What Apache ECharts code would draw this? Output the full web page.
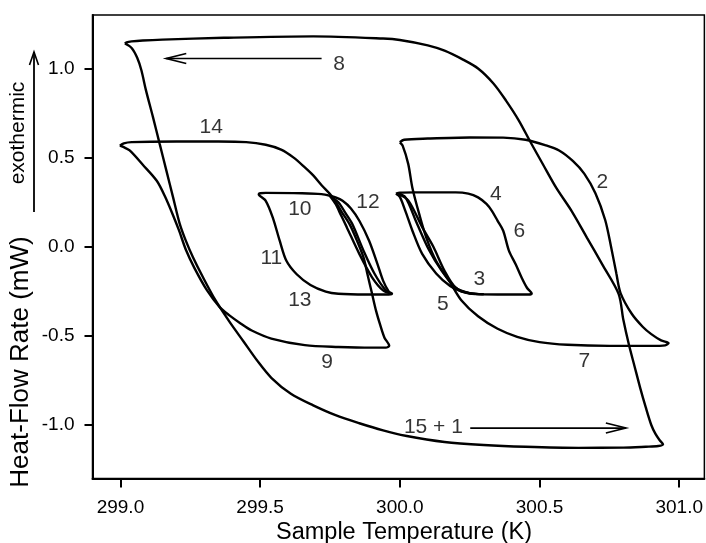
<!DOCTYPE html>
<html><head><meta charset="utf-8">
<script src="https://cdn.jsdelivr.net/npm/echarts@6/dist/echarts.min.js"></script>
<style>html,body{margin:0;padding:0;background:#fff}#c{width:706px;height:543px}</style>
</head><body><div id="c"></div>
<script>
// Tick values
const xTicks = [299.0, 299.5, 300.0, 300.5, 301.0];
const yTicks = [-1.0, -0.5, 0.0, 0.5, 1.0];

// Curves: [Sample Temperature (K), Heat-Flow Rate (mW)]
const outerLoop = [
  [299.016,1.14],[299.04,1.115],[299.06,1.06],[299.075,0.99],[299.091,0.88],[299.116,0.73],
  [299.14,0.58],[299.164,0.43],[299.188,0.28],[299.212,0.13],[299.235,0.03],[299.26,-0.06],
  [299.295,-0.17],[299.34,-0.30],[299.39,-0.42],[299.44,-0.53],[299.49,-0.64],[299.54,-0.735],
  [299.61,-0.825],[299.69,-0.89],[299.77,-0.945],[299.855,-0.99],[299.94,-1.03],[300.02,-1.06],
  [300.16,-1.095],[300.30,-1.112],[300.45,-1.122],[300.64,-1.128],[300.80,-1.127],[300.88,-1.122],
  [300.925,-1.118],[300.942,-1.108],[300.93,-1.085],[300.915,-1.05],[300.90,-1.00],[300.88,-0.90],
  [300.86,-0.79],[300.84,-0.67],[300.82,-0.55],[300.80,-0.41],[300.783,-0.264],[300.725,-0.10],
  [300.67,0.05],[300.615,0.20],[300.56,0.33],[300.513,0.46],[300.468,0.586],[300.426,0.708],
  [300.38,0.82],[300.335,0.916],[300.28,1.00],[300.226,1.05],[300.16,1.10],[300.10,1.13],
  [300.0,1.16],[299.94,1.168],[299.69,1.18],[299.37,1.172],[299.15,1.162],[299.08,1.157],
  [299.04,1.152],[299.022,1.147],[299.016,1.14]
];
const loop14 = [
  [298.998,0.567],[299.012,0.58],[299.04,0.587],[299.2,0.59],[299.35,0.59],[299.45,0.587],
  [299.52,0.572],[299.575,0.545],[299.62,0.50],[299.66,0.445],[299.69,0.40],[299.72,0.345],
  [299.76,0.277],[299.79,0.20],[299.82,0.127],[299.845,0.04],[299.87,-0.06],[299.885,-0.16],
  [299.90,-0.26],[299.915,-0.36],[299.93,-0.44],[299.945,-0.51],[299.962,-0.555],[299.95,-0.566],
  [299.9,-0.566],[299.78,-0.562],[299.66,-0.552],[299.54,-0.515],[299.47,-0.47],[299.43,-0.43],
  [299.39,-0.385],[299.356,-0.34],[299.31,-0.245],[299.265,-0.12],[299.235,-0.02],[299.21,0.09],
  [299.19,0.17],[299.16,0.28],[299.13,0.37],[299.08,0.46],[299.033,0.54],[299.01,0.56],[298.998,0.567]
];
const loopRight = [
  [300.0,0.586],[300.015,0.60],[300.1,0.607],[300.25,0.613],[300.37,0.612],[300.45,0.60],
  [300.52,0.57],[300.57,0.54],[300.62,0.48],[300.66,0.41],[300.70,0.30],[300.735,0.15],
  [300.756,0.0],[300.775,-0.15],[300.79,-0.26],[300.83,-0.376],[300.87,-0.45],[300.90,-0.49],
  [300.935,-0.525],[300.962,-0.54],[300.95,-0.553],[300.90,-0.556],[300.75,-0.556],[300.60,-0.55],
  [300.50,-0.535],[300.42,-0.505],[300.35,-0.46],[300.28,-0.39],[300.22,-0.30],[300.18,-0.20],
  [300.13,-0.08],[300.095,0.05],[300.07,0.18],[300.045,0.33],[300.03,0.465],[300.01,0.567],[300.0,0.586]
];
const smallLeftLoop = [
  [299.75,0.285],[299.72,0.295],[299.65,0.30],[299.52,0.302],[299.50,0.30],[299.495,0.295],
  [299.52,0.258],[299.545,0.165],[299.57,0.034],[299.594,-0.079],[299.63,-0.153],[299.68,-0.215],
  [299.735,-0.252],[299.78,-0.264],[299.88,-0.268],[299.96,-0.268],[299.972,-0.264],[299.96,-0.25],
  [299.94,-0.19],[299.92,-0.097],[299.89,0.034],[299.855,0.146],[299.825,0.215],[299.795,0.258],
  [299.77,0.277],[299.75,0.285]
];
const smallLeftMid = [
  [299.75,0.285],[299.78,0.25],[299.805,0.19],[299.83,0.127],[299.87,-0.022],[299.91,-0.153],
  [299.95,-0.245],[299.972,-0.264]
];
const smallLeftInner = [
  [299.75,0.285],[299.77,0.24],[299.79,0.175],[299.81,0.11],[299.855,-0.04],[299.90,-0.17],
  [299.94,-0.245],[299.972,-0.264]
];
const smallRightLoop = [
  [299.986,0.298],[300.0,0.303],[300.05,0.305],[300.2,0.305],[300.245,0.298],[300.28,0.277],
  [300.31,0.24],[300.33,0.20],[300.35,0.145],[300.37,0.09],[300.39,-0.02],[300.415,-0.10],
  [300.435,-0.17],[300.455,-0.23],[300.472,-0.262],[300.46,-0.268],[300.35,-0.268],[300.28,-0.266],
  [300.22,-0.25],[300.18,-0.22],[300.13,-0.15],[300.08,-0.04],[300.045,0.09],[300.02,0.20],
  [300.0,0.28],[299.986,0.298]
];
const smallRightMid = [
  [299.99,0.30],[300.02,0.277],[300.057,0.146],[300.105,-0.02],[300.15,-0.135],[300.2,-0.23],
  [300.25,-0.26],[300.3,-0.266]
];
const smallRightInner = [
  [299.99,0.30],[300.03,0.26],[300.08,0.11],[300.12,0.0],[300.16,-0.135],[300.2,-0.23],
  [300.25,-0.262],[300.3,-0.266]
];

// Segment labels
const labelText = ['8','14','2','4','6','10','12','11','3','13','5','9','7','15 + 1'];
const labelT = [299.783,299.325,300.725,300.344,300.428,299.642,299.886,299.54,300.285,299.642,300.154,299.74,300.66,300.12];
const labelH = [1.022,0.67,0.361,0.296,0.09,0.212,0.249,-0.064,-0.182,-0.298,-0.322,-0.65,-0.64,-1.012];

// Direction arrows: [tail, tip]
const arrow8 = [[299.72,1.056],[299.164,1.056]];
const arrow15 = [[300.252,-1.017],[300.809,-1.017]];

const FONT = "'Liberation Sans', Arial, Helvetica, sans-serif";
const curves = [outerLoop, loop14, loopRight, smallLeftLoop, smallLeftMid, smallLeftInner,
                smallRightLoop, smallRightMid, smallRightInner];

const chart = echarts.init(document.getElementById('c'), null, {renderer:'canvas'});
const series = curves.map(d => ({
  type:'line', data:d, symbol:'none', smooth:0.3, animation:false, silent:true,
  lineStyle:{color:'#000', width:2.4}
}));
series.push({
  type:'scatter', symbolSize:0, animation:false, silent:true,
  itemStyle:{color:'#000'},
  data: labelText.map((t,i)=>({name:t, value:[labelT[i], labelH[i]]})),
  label:{show:true, position:'inside', formatter:'{b}', color:'#000', fontSize:21, fontFamily:FONT,
         textBorderWidth:0, textShadowBlur:0}
});

chart.setOption({
  backgroundColor:'#fff',
  animation:false,
  grid:{left:92.5, right:0.5, top:15, bottom:64.5, show:true, borderColor:'#000', borderWidth:1.5, containLabel:false},
  xAxis:{
    type:'value', min:298.9, max:301.09,
    axisLine:{show:true, onZero:false, lineStyle:{color:'#000', width:2}},
    axisTick:{show:true, length:9, inside:false, customValues:xTicks, lineStyle:{color:'#000', width:2}},
    axisLabel:{customValues:xTicks, formatter:v=>v.toFixed(1), fontSize:19, color:'#000', margin:20, fontFamily:FONT},
    splitLine:{show:false}
  },
  yAxis:{
    type:'value', min:-1.3, max:1.3,
    axisLine:{show:true, onZero:false, lineStyle:{color:'#000', width:2}},
    axisTick:{show:true, length:8, inside:false, customValues:yTicks, lineStyle:{color:'#000', width:2}},
    axisLabel:{customValues:yTicks, formatter:v=>v.toFixed(1), fontSize:19, color:'#000', margin:18, fontFamily:FONT},
    splitLine:{show:false}
  },
  series: series
});

const px = p => chart.convertToPixel({gridIndex:0}, p);
const g = [];
[arrow8, arrow15].forEach(a => {
  const tail = px(a[0]), tip = px(a[1]);
  const dir = Math.sign(tail[0]-tip[0]);
  g.push({type:'polyline', silent:true, shape:{points:[tail, tip]}, style:{stroke:'#000', lineWidth:1.7, fill:null}});
  g.push({type:'polyline', silent:true, shape:{points:[[tip[0]+dir*20, tip[1]-5], tip, [tip[0]+dir*20, tip[1]+5]]}, style:{stroke:'#000', lineWidth:1.7, fill:null}});
});
// axis titles and the exothermic indicator
g.push({type:'text', silent:true, x:404, y:533, style:{text:'Sample Temperature (K)', font:'23.5px '+FONT, fill:'#000', align:'center', verticalAlign:'middle'}});
g.push({type:'text', silent:true, x:21, y:362, rotation:Math.PI/2, style:{text:'Heat-Flow Rate (mW)', font:'26px '+FONT, fill:'#000', align:'center', verticalAlign:'middle'}});
g.push({type:'text', silent:true, x:18, y:133, rotation:Math.PI/2, style:{text:'exothermic', font:'21px '+FONT, fill:'#000', align:'center', verticalAlign:'middle'}});
g.push({type:'polyline', silent:true, shape:{points:[[34,212],[34,52]]}, style:{stroke:'#000', lineWidth:1.8, fill:null}});
g.push({type:'polyline', silent:true, shape:{points:[[29.5,65],[34,52],[38.5,65]]}, style:{stroke:'#000', lineWidth:1.6, fill:null}});
chart.setOption({graphic:g});
</script>
</body></html>
